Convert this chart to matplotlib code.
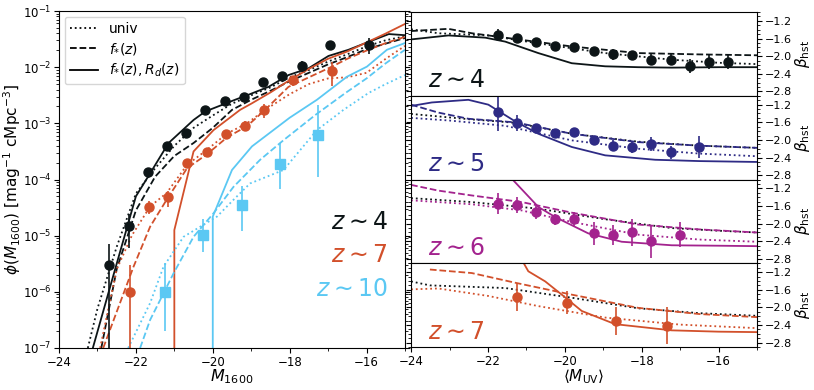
import matplotlib
matplotlib.use("Agg")
import matplotlib.pyplot as plt
from matplotlib.ticker import MultipleLocator
import numpy as np

# ---------------- left panel: UV luminosity functions ----------------
# observed points (phi, err)
m_z4 = [-22.69, -22.19, -21.69, -21.19, -20.69, -20.19, -19.69, -19.19, -18.69, -18.19, -17.69, -16.94, -15.94]
phi_z4 = [3e-6, 1.5e-5, 1.34e-4, 3.93e-4, 6.78e-4, 1.696e-3, 2.475e-3, 2.984e-3, 5.352e-3, 6.865e-3, 1.0473e-2, 2.458e-2, 2.508e-2]
err_z4 = [4e-6, 9e-6, 2.3e-5, 4e-5, 6.3e-5, 1.13e-4, 1.85e-4, 2.55e-4, 4.46e-4, 1.043e-3, 2.229e-3, 3.5e-3, 8.115e-3]

m_z7 = [-22.16, -21.66, -21.16, -20.66, -20.16, -19.66, -19.16, -18.66, -17.91, -16.91]
phi_z7 = [1e-6, 3.3e-5, 4.8e-5, 1.93e-4, 3.09e-4, 6.54e-4, 9.07e-4, 1.717e-3, 5.84e-3, 8.5e-3]
err_z7 = [2e-6, 9e-6, 1.5e-5, 3.4e-5, 6.1e-5, 1e-4, 1.77e-4, 4.78e-4, 1.239e-3, 3.9e-3]

m_z10 = [-21.25, -20.25, -19.25, -18.25, -17.25]
phi_z10 = [1.0e-6, 1.02e-5, 3.47e-5, 1.9e-4, 6.3e-4]
lo_z10 = [2e-7, 5.1e-6, 1.2e-5, 6.9e-5, 1.1e-4]
hi_z10 = [3.2e-6, 2.0e-5, 7.8e-5, 4.5e-4, 2.1e-3]

# model curves: magnitudes and log10 phi
m4_univ = [-23.25, -23.0, -22.5, -22.0, -21.5, -21.0, -20.5, -20.0, -19.5, -19.0, -18.5, -18.0, -17.5, -17.0, -16.5, -16.0, -15.5, -15.0]
l4_univ = [-7.0, -6.3, -5.2, -4.25, -3.8, -3.4, -3.08, -2.86, -2.65, -2.5, -2.36, -2.18, -2.05, -1.9, -1.77, -1.63, -1.52, -1.45]
m4_fs = [-22.9, -22.5, -22.0, -21.5, -21.0, -20.5, -20.0, -19.5, -19.0, -18.5, -18.0, -17.5, -17.0, -16.5, -16.0, -15.5, -15.0]
l4_fs = [-7.0, -5.6, -4.55, -3.95, -3.58, -3.35, -3.08, -2.76, -2.58, -2.42, -2.25, -2.1, -1.95, -1.82, -1.68, -1.58, -1.48]
m4_rd = [-23.12, -22.5, -22.0, -21.63, -21.15, -20.5, -20.2, -19.42, -19.07, -18.55, -18.03, -17.51, -16.99, -16.47, -15.95, -15.42, -15.0]
l4_rd = [-7.0, -5.5, -4.3, -3.89, -3.35, -2.94, -2.79, -2.58, -2.49, -2.35, -2.14, -2.02, -1.8, -1.69, -1.55, -1.41, -1.43]

m7_univ = [-22.93, -22.5, -22.1, -21.63, -21.2, -20.67, -20.15, -19.63, -19.11, -18.64, -18.0, -17.5, -17.0, -16.5, -16.0, -15.5, -15.0]
l7_univ = [-7.0, -5.6, -4.99, -4.48, -4.24, -3.74, -3.47, -3.18, -3.0, -2.76, -2.48, -2.3, -2.2, -2.18, -2.1, -1.85, -1.62]
m7_fs = [-22.85, -22.06, -21.63, -21.2, -20.67, -20.15, -19.63, -19.11, -18.64, -18.03, -17.5, -16.9, -16.5, -15.95, -15.5, -15.0]
l7_fs = [-7.0, -5.55, -4.84, -4.36, -3.8, -3.55, -3.25, -3.05, -2.76, -2.35, -2.18, -1.99, -1.85, -1.69, -1.57, -1.46]
m7_rd = [-21.0, -21.0, -20.5, -19.98, -19.29, -19.0, -18.5, -18.0, -17.5, -17.0, -16.5, -16.0, -15.5, -15.0]
l7_rd = [-7.5, -4.9, -3.5, -3.12, -2.76, -2.65, -2.45, -2.23, -2.03, -1.85, -1.72, -1.56, -1.4, -1.23]

m10_univ = [-22.2, -21.63, -21.28, -20.76, -19.89, -19.46, -19.03, -18.16, -17.29, -16.6, -15.95, -15.5, -15.0]
l10_univ = [-7.0, -6.2, -5.55, -5.02, -4.66, -4.36, -4.07, -3.83, -3.12, -2.76, -2.46, -2.3, -2.14]
m10_fs = [-21.89, -21.63, -21.02, -20.5, -19.98, -19.46, -18.77, -18.16, -17.33, -16.55, -16.0, -15.5, -15.0]
l10_fs = [-7.0, -6.5, -5.67, -5.02, -4.6, -4.13, -3.65, -3.3, -2.85, -2.46, -2.2, -1.93, -1.69]
m10_rd = [-20.0, -20.0, -19.5, -18.98, -18.0, -17.29, -16.51, -15.99, -15.47, -15.0]
l10_rd = [-7.5, -4.66, -3.83, -3.41, -2.9, -2.58, -2.17, -1.99, -1.69, -1.57]

# ---------------- right panels: UV slopes ----------------
mb_z4 = [-21.75, -21.25, -20.75, -20.25, -19.75, -19.25, -18.75, -18.25, -17.75, -17.25, -16.75, -16.25, -15.75]
b_z4 = [-1.52, -1.59, -1.68, -1.78, -1.80, -1.89, -1.96, -1.98, -2.08, -2.08, -2.22, -2.13, -2.13]
be_z4 = [0.13, 0.09, 0.09, 0.08, 0.09, 0.08, 0.12, 0.10, 0.13, 0.12, 0.16, 0.17, 0.17]

mb_z5 = [-21.75, -21.25, -20.75, -20.25, -19.75, -19.25, -18.75, -18.25, -17.75, -17.25, -16.5]
b_z5 = [-1.36, -1.62, -1.74, -1.85, -1.83, -2.01, -2.13, -2.16, -2.09, -2.28, -2.16]
be_z5 = [0.44, 0.18, 0.11, 0.09, 0.09, 0.11, 0.13, 0.13, 0.15, 0.15, 0.24]

mb_z6 = [-21.75, -21.25, -20.75, -20.25, -19.75, -19.25, -18.75, -18.25, -17.75, -17.0]
b_z6 = [-1.55, -1.58, -1.74, -1.90, -1.90, -2.22, -2.26, -2.20, -2.40, -2.25]
be_z6 = [0.24, 0.18, 0.15, 0.13, 0.17, 0.26, 0.22, 0.30, 0.38, 0.28]

mb_z7 = [-21.25, -19.95, -18.67, -17.35]
b_z7 = [-1.76, -1.89, -2.30, -2.42]
be_z7 = [0.32, 0.26, 0.32, 0.42]

# model beta curves
mu_grid = [-24.0, -23.03, -22.07, -21.55, -20.69, -19.82, -18.95, -18.09, -17.22, -16.0, -15.0]
bz4_rd = [-1.62, -1.53, -1.58, -1.67, -1.93, -2.16, -2.23, -2.25, -2.26, -2.25, -2.25]
mz4_fs = [-24.0, -23.03, -22.42, -21.73, -19.82, -18.09, -16.5, -15.0]
bz4_fs = [-1.43, -1.38, -1.48, -1.56, -1.78, -1.93, -1.96, -1.98]
mz4_univ = [-24.0, -23.29, -21.99, -20.69, -18.95, -17.22, -16.0, -15.0]
bz4_univ = [-1.39, -1.48, -1.53, -1.71, -1.93, -2.08, -2.15, -2.18]

mz5_rd = [-24.0, -23.46, -22.51, -21.99, -21.29, -20.69, -19.82, -18.95, -17.65, -16.5, -15.0]
bz5_rd = [-1.23, -1.15, -1.09, -1.20, -1.58, -1.86, -2.16, -2.35, -2.45, -2.48, -2.5]
mz5_fs = [-24.0, -23.29, -22.51, -21.3, -19.82, -18.09, -16.5, -15.0]
bz5_fs = [-1.2, -1.38, -1.52, -1.6, -1.86, -2.05, -2.13, -2.18]
mz5_univ = [-24.0, -23.0, -21.55, -19.82, -18.09, -16.5, -15.0]
bz5_univ = [-1.50, -1.56, -1.68, -2.01, -2.20, -2.31, -2.37]
mz5_blk = [-24.0, -22.5, -21.3, -19.82, -18.09, -16.5, -15.0]
bz5_blk = [-1.41, -1.53, -1.61, -1.86, -2.04, -2.13, -2.18]

mz6_rd = [-21.38, -20.69, -20.25, -19.39, -18.52, -17.22, -16.0, -15.0]
bz6_rd = [-0.98, -1.62, -1.85, -2.22, -2.41, -2.49, -2.5, -2.51]
mz6_fs = [-24.0, -23.29, -22.42, -21.12, -19.82, -18.09, -16.5, -15.0]
bz6_fs = [-1.12, -1.25, -1.36, -1.51, -1.75, -2.02, -2.13, -2.2]
mz6_univ = [-24.0, -22.42, -21.12, -19.82, -18.09, -16.5, -15.0]
bz6_univ = [-1.47, -1.56, -1.70, -1.96, -2.25, -2.36, -2.41]
mz6_blk = [-24.0, -22.42, -20.69, -18.95, -17.22, -16.0, -15.0]
bz6_blk = [-1.42, -1.51, -1.66, -1.90, -2.10, -2.16, -2.2]

mz7_rd = [-21.08, -20.95, -20.51, -20.08, -19.56, -18.69, -17.22, -16.0, -15.0]
bz7_rd = [-0.98, -1.18, -1.41, -1.71, -2.08, -2.38, -2.52, -2.55, -2.56]
mz7_fs = [-23.51, -22.42, -21.29, -19.82, -18.09, -16.5, -15.0]
bz7_fs = [-1.14, -1.22, -1.44, -1.71, -2.01, -2.15, -2.22]
mz7_univ = [-24.0, -23.29, -21.99, -20.69, -18.95, -17.0, -15.0]
bz7_univ = [-1.59, -1.57, -1.74, -1.97, -2.23, -2.39, -2.47]
mz7_blk = [-24.0, -23.51, -21.55, -19.82, -18.09, -16.5, -15.0]
bz7_blk = [-1.41, -1.50, -1.56, -1.78, -2.02, -2.13, -2.19]

c4 = "#0d1517"
c5 = "#2e2b85"
c6 = "#a3238e"
c7 = "#d2502b"
c10 = "#5bc8f3"

fig = plt.figure(figsize=(8.14, 3.9), dpi=100)

ax = fig.add_axes([0.0725, 0.1077, 0.425, 0.864])
for col, mm, ll, ls in [
    (c4, m4_univ, l4_univ, ":"), (c4, m4_fs, l4_fs, "--"), (c4, m4_rd, l4_rd, "-"),
    (c7, m7_univ, l7_univ, ":"), (c7, m7_fs, l7_fs, "--"), (c7, m7_rd, l7_rd, "-"),
    (c10, m10_univ, l10_univ, ":"), (c10, m10_fs, l10_fs, "--"), (c10, m10_rd, l10_rd, "-"),
]:
    ax.plot(mm, 10 ** np.array(ll), color=col, ls=ls, lw=1.3)

def lower_err(phi, err):
    phi = np.array(phi)
    err = np.array(err)
    lo = np.where(phi - err <= 0, phi - 1e-9, err)
    return [lo, err]

ax.errorbar(m_z4, phi_z4, yerr=lower_err(phi_z4, err_z4), fmt="o", color=c4, ms=6.5, lw=1.2, capsize=0)
ax.errorbar(m_z7, phi_z7, yerr=lower_err(phi_z7, err_z7), fmt="o", color=c7, ms=6.5, lw=1.2, capsize=0)
ax.errorbar(m_z10, phi_z10, yerr=[np.array(phi_z10) - np.array(lo_z10), np.array(hi_z10) - np.array(phi_z10)],
            fmt="s", color=c10, ms=6.5, lw=1.2, capsize=0)

ax.set_yscale("log")
ax.set_xlim(-24, -15)
ax.set_ylim(1e-7, 1e-1)
ax.xaxis.set_major_locator(MultipleLocator(2))
ax.xaxis.set_minor_locator(MultipleLocator(1))
ax.tick_params(axis="y", which="both", right=True)
ax.tick_params(labelsize=8.5, pad=2)
ax.set_xlabel(r"$M_{1600}$", fontsize=11.5, labelpad=-1)
ax.set_ylabel(r"$\phi(M_{1600})$ [mag$^{-1}$ cMpc$^{-3}$]", fontsize=11, labelpad=0)

ax.text(-15.45, 10 ** -4.75, r"$z\sim4$", color=c4, fontsize=17, ha="right", va="center")
ax.text(-15.45, 10 ** -5.34, r"$z\sim7$", color=c7, fontsize=17, ha="right", va="center")
ax.text(-15.45, 10 ** -5.95, r"$z\sim10$", color=c10, fontsize=17, ha="right", va="center")

h1, = ax.plot([], [], color="k", ls=":", lw=1.3, label="univ")
h2, = ax.plot([], [], color="k", ls="--", lw=1.3, label=r"$f_{*}(z)$")
h3, = ax.plot([], [], color="k", ls="-", lw=1.3, label=r"$f_{*}(z), R_d(z)$")
ax.legend(handles=[h1, h2, h3], loc="upper left", fontsize=10, handlelength=2.0,
          borderaxespad=0.4, labelspacing=0.35)

# ---------------- right panels ----------------
panels = [
    (c4, r"$z\sim4$", mb_z4, b_z4, be_z4,
     [(mu_grid, bz4_rd, "-"), (mz4_fs, bz4_fs, "--"), (mz4_univ, bz4_univ, ":")], None),
    (c5, r"$z\sim5$", mb_z5, b_z5, be_z5,
     [(mz5_rd, bz5_rd, "-"), (mz5_fs, bz5_fs, "--"), (mz5_univ, bz5_univ, ":")], (mz5_blk, bz5_blk)),
    (c6, r"$z\sim6$", mb_z6, b_z6, be_z6,
     [(mz6_rd, bz6_rd, "-"), (mz6_fs, bz6_fs, "--"), (mz6_univ, bz6_univ, ":")], (mz6_blk, bz6_blk)),
    (c7, r"$z\sim7$", mb_z7, b_z7, be_z7,
     [(mz7_rd, bz7_rd, "-"), (mz7_fs, bz7_fs, "--"), (mz7_univ, bz7_univ, ":")], (mz7_blk, bz7_blk)),
]

x0, w = 0.505, 0.425
ph = 0.859 / 4
top = 0.969
for i, (col, lab, mb, bb, be, curves, blk) in enumerate(panels):
    axr = fig.add_axes([x0, top - (i + 1) * ph, w, ph])
    if blk is not None:
        axr.plot(blk[0], blk[1], color=c4, ls=":", lw=1.3)
    for mm, bv, ls in curves:
        axr.plot(mm, bv, color=col, ls=ls, lw=1.3)
    axr.errorbar(mb, bb, yerr=be, fmt="o", color=col, ms=6.5, lw=1.2, capsize=0)
    axr.set_xlim(-24, -15)
    axr.set_ylim(-2.9, -1.0)
    axr.xaxis.set_major_locator(MultipleLocator(2))
    axr.xaxis.set_minor_locator(MultipleLocator(1))
    axr.yaxis.set_major_locator(MultipleLocator(0.4))
    axr.yaxis.set_minor_locator(MultipleLocator(0.1))
    axr.yaxis.tick_right()
    axr.yaxis.set_label_position("right")
    axr.tick_params(axis="y", which="both", left=True, right=True, labelsize=8, pad=2)
    axr.tick_params(axis="x", labelsize=8.5, pad=2)
    axr.set_ylabel(r"$\beta_{\rm hst}$", fontsize=11, labelpad=1)
    axr.text(-23.55, -2.55, lab, color=col, fontsize=17, va="center")
    if i < 3:
        axr.tick_params(axis="x", labelbottom=False)
    else:
        axr.set_xlabel(r"$\langle M_{\rm UV}\rangle$", fontsize=11, labelpad=0)

fig.savefig("out.png", dpi=100)
